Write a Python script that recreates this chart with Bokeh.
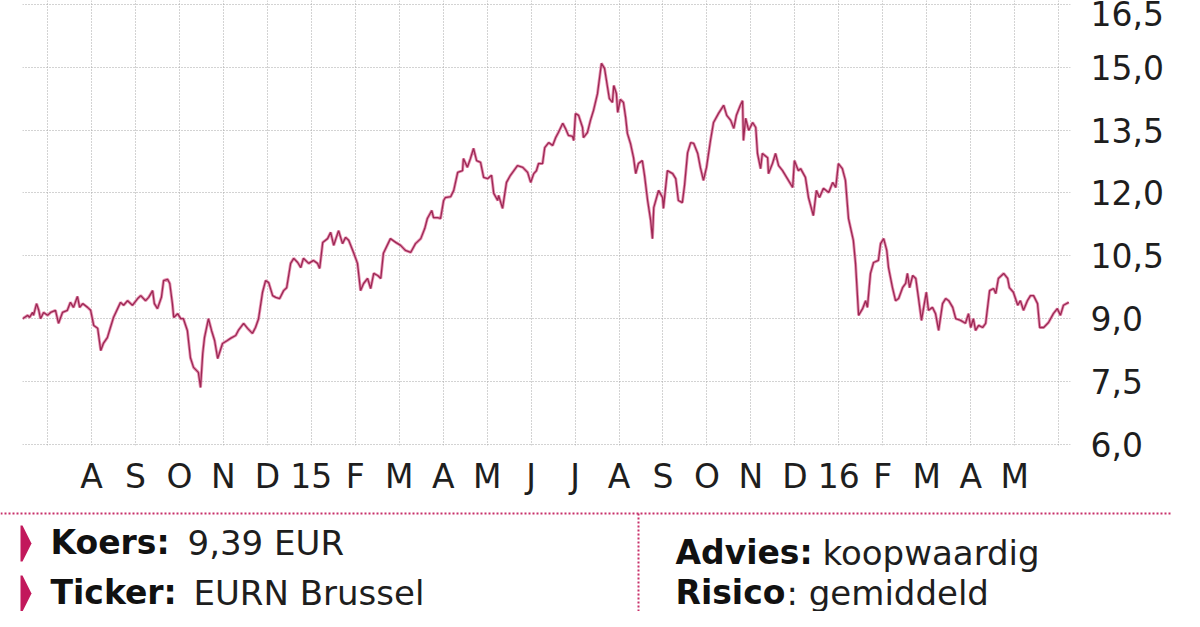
from bokeh.plotting import figure
from bokeh.models import Range1d, FixedTicker
from bokeh.layouts import column
from bokeh.core.properties import value
from bokeh.embed import file_html
from bokeh.resources import INLINE

# ---- data: months since 1 Jul 2014 (equal-width months), share price in EUR ----
months = [-0.57, -0.45, -0.41, -0.34, -0.32, -0.25, -0.20, -0.16, -0.09, 0.00,
          0.07, 0.18, 0.25, 0.34, 0.45, 0.52, 0.59, 0.68, 0.73, 0.80,
          0.91, 0.98, 1.05, 1.14, 1.21, 1.27, 1.36, 1.43, 1.50, 1.66,
          1.73, 1.82, 1.93, 2.05, 2.12, 2.23, 2.30, 2.39, 2.43, 2.50,
          2.59, 2.64, 2.73, 2.78, 2.84, 2.87, 2.96, 3.03, 3.09, 3.18,
          3.25, 3.32, 3.43, 3.48, 3.53, 3.57, 3.66, 3.73, 3.80, 3.87,
          3.98, 4.09, 4.16, 4.28, 4.34, 4.46, 4.55, 4.66, 4.73, 4.80,
          4.89, 4.96, 5.03, 5.12, 5.19, 5.28, 5.37, 5.44, 5.53, 5.60,
          5.69, 5.76, 5.82, 5.94, 6.05, 6.14, 6.19, 6.26, 6.37, 6.44,
          6.51, 6.62, 6.71, 6.78, 6.85, 6.96, 7.05, 7.12, 7.19, 7.28,
          7.35, 7.42, 7.51, 7.58, 7.64, 7.80, 7.92, 8.03, 8.14, 8.26,
          8.37, 8.49, 8.58, 8.64, 8.74, 8.78, 8.87, 8.94, 9.01, 9.05,
          9.17, 9.24, 9.33, 9.44, 9.46, 9.55, 9.62, 9.69, 9.76, 9.85,
          9.92, 10.01, 10.10, 10.15, 10.24, 10.26, 10.35, 10.44, 10.53, 10.69,
          10.81, 10.92, 10.99, 11.06, 11.12, 11.17, 11.26, 11.31, 11.40, 11.49,
          11.56, 11.62, 11.72, 11.78, 11.85, 11.94, 11.97, 12.01, 12.08, 12.17,
          12.19, 12.28, 12.35, 12.42, 12.51, 12.60, 12.67, 12.74, 12.78, 12.85,
          12.88, 12.94, 12.97, 13.03, 13.10, 13.15, 13.19, 13.26, 13.33, 13.38,
          13.44, 13.53, 13.58, 13.65, 13.72, 13.76, 13.79, 13.90, 13.99, 14.01,
          14.10, 14.22, 14.29, 14.35, 14.44, 14.49, 14.56, 14.63, 14.70, 14.79,
          14.85, 14.92, 14.99, 15.08, 15.15, 15.26, 15.38, 15.45, 15.54, 15.61,
          15.67, 15.76, 15.81, 15.83, 15.88, 15.95, 16.04, 16.11, 16.15, 16.22,
          16.26, 16.38, 16.40, 16.49, 16.56, 16.63, 16.72, 16.83, 16.95, 16.99,
          17.08, 17.13, 17.24, 17.31, 17.42, 17.49, 17.56, 17.65, 17.77, 17.86,
          17.93, 17.99, 18.08, 18.15, 18.22, 18.33, 18.38, 18.45, 18.54, 18.61,
          18.65, 18.72, 18.79, 18.90, 18.95, 19.02, 19.09, 19.13, 19.22, 19.29,
          19.36, 19.45, 19.52, 19.56, 19.61, 19.68, 19.75, 19.81, 19.88, 19.93,
          19.99, 20.04, 20.13, 20.20, 20.27, 20.36, 20.43, 20.50, 20.59, 20.66,
          20.77, 20.88, 20.95, 21.00, 21.06, 21.11, 21.18, 21.27, 21.34, 21.43,
          21.52, 21.57, 21.63, 21.75, 21.84, 21.88, 21.97, 22.07, 22.13, 22.20,
          22.29, 22.36, 22.43, 22.52, 22.57, 22.66, 22.77, 22.88, 22.97, 23.04,
          23.11, 23.23]

prices = [9.00, 9.08, 9.03, 9.15, 9.08, 9.36, 9.20, 9.00, 9.15, 9.08,
          9.15, 9.20, 8.89, 9.15, 9.20, 9.39, 9.27, 9.53, 9.27, 9.36,
          9.27, 9.20, 8.84, 8.77, 8.24, 8.41, 8.55, 8.79, 9.03, 9.39,
          9.32, 9.43, 9.32, 9.48, 9.55, 9.43, 9.51, 9.67, 9.36, 9.24,
          9.51, 9.91, 9.94, 9.84, 9.36, 9.03, 9.12, 9.00, 9.00, 8.72,
          8.07, 7.84, 7.72, 7.36, 8.17, 8.55, 9.00, 8.72, 8.48, 8.05,
          8.41, 8.48, 8.53, 8.60, 8.72, 8.89, 8.77, 8.65, 8.79, 9.00,
          9.63, 9.91, 9.86, 9.55, 9.51, 9.48, 9.67, 9.74, 10.32, 10.44,
          10.34, 10.22, 10.44, 10.32, 10.39, 10.32, 10.20, 10.82, 10.91, 11.06,
          10.75, 11.10, 10.79, 10.94, 10.87, 10.58, 10.32, 9.67, 9.84, 9.96,
          9.72, 10.08, 10.03, 9.96, 10.56, 10.91, 10.82, 10.75, 10.63, 10.58,
          10.79, 10.91, 11.15, 11.39, 11.58, 11.41, 11.41, 11.39, 11.82, 11.89,
          11.91, 12.06, 12.49, 12.53, 12.82, 12.61, 12.82, 13.06, 12.77, 12.73,
          12.37, 12.34, 12.42, 11.99, 11.82, 11.94, 11.63, 12.25, 12.42, 12.65,
          12.61, 12.49, 12.25, 12.46, 12.53, 12.70, 12.70, 13.08, 13.20, 13.13,
          13.32, 13.44, 13.66, 13.54, 13.37, 13.35, 13.25, 13.89, 13.85, 13.56,
          13.32, 13.44, 13.73, 13.97, 14.37, 15.09, 14.97, 14.51, 14.25, 14.16,
          14.56, 14.37, 13.92, 14.23, 14.16, 13.80, 13.42, 13.18, 12.84, 12.46,
          12.70, 12.77, 12.42, 11.82, 11.34, 10.91, 11.65, 12.06, 11.89, 11.63,
          12.53, 12.46, 12.34, 11.82, 11.77, 12.18, 12.96, 13.20, 13.18, 12.94,
          12.61, 12.30, 12.61, 13.25, 13.68, 13.89, 14.09, 13.85, 13.73, 13.54,
          13.85, 14.09, 14.20, 13.25, 13.78, 13.49, 13.68, 13.56, 12.94, 12.58,
          12.94, 12.84, 12.46, 12.70, 12.94, 12.65, 12.53, 12.34, 12.13, 12.77,
          12.53, 12.58, 12.37, 11.89, 11.46, 12.06, 11.89, 12.11, 12.01, 12.25,
          12.13, 12.70, 12.58, 12.30, 11.39, 10.87, 10.32, 9.08, 9.24, 9.43,
          9.27, 10.08, 10.34, 10.39, 10.79, 10.91, 10.63, 10.22, 9.74, 9.43,
          9.48, 9.74, 9.84, 10.08, 9.74, 10.03, 9.96, 9.51, 8.96, 9.27,
          9.63, 9.20, 9.27, 9.12, 8.72, 9.36, 9.48, 9.43, 9.27, 9.00,
          8.96, 8.89, 9.12, 8.79, 9.00, 8.72, 8.84, 8.79, 8.89, 9.67,
          9.72, 9.60, 9.96, 10.08, 9.96, 9.74, 9.63, 9.32, 9.43, 9.20,
          9.43, 9.55, 9.55, 9.36, 8.79, 8.79, 8.91, 9.12, 9.24, 9.08,
          9.32, 9.39]

month_grid = list(range(0, 24))
x_tick_pos = list(range(1, 23))
x_tick_labels = ["A", "S", "O", "N", "D", "15", "F", "M", "A", "M", "J",
                 "J", "A", "S", "O", "N", "D", "16", "F", "M", "A", "M"]
y_ticks = [6.0, 7.5, 9.0, 10.5, 12.0, 13.5, 15.0, 16.5]
y_tick_labels = ["6,0", "7,5", "9,0", "10,5", "12,0", "13,5", "15,0", "16,5"]

info_keys = ["Koers:", "Ticker:", "Advies:", "Risico"]
info_vals = ["9,39 EUR", "EURN Brussel", "koopwaardig", ": gemiddeld"]

AXIS_FONT = "DejaVu Sans"
TXT = "#1e1e1e"
PINK = "#c8306a"

# ---------------- chart ----------------
top = figure(width=1184, height=508,
             x_range=Range1d(-0.57, 23.27), y_range=Range1d(5.976, 16.589),
             y_axis_location="right", output_backend="svg", toolbar_location=None,
             min_border_left=22, min_border_right=114, min_border_top=0,
             min_border_bottom=63)
top.outline_line_color = None
top.background_fill_color = "white"
top.border_fill_color = "white"
top.frame_align = False

top.xgrid.ticker = FixedTicker(ticks=month_grid)
top.ygrid.ticker = FixedTicker(ticks=y_ticks)
for g in (top.xgrid, top.ygrid):
    g.grid_line_color = "#a6a6a6"
    g.grid_line_dash = "1 2"
    g.grid_line_width = 1

xa = top.xaxis[0]
xa.ticker = FixedTicker(ticks=x_tick_pos)
xa.major_label_overrides = {p: l for p, l in zip(x_tick_pos, x_tick_labels)}
ya = top.yaxis[0]
ya.ticker = FixedTicker(ticks=y_ticks)
ya.major_label_overrides = {t: l for t, l in zip(y_ticks, y_tick_labels)}
for ax in (xa, ya):
    ax.axis_line_color = None
    ax.major_tick_line_color = None
    ax.minor_tick_line_color = None
    ax.major_tick_out = 0
    ax.major_tick_in = 0
    ax.major_label_text_font = AXIS_FONT
    ax.major_label_text_font_size = "33px"
    ax.major_label_text_color = TXT
xa.major_label_standoff = 11
ya.major_label_standoff = 20

top.line(months, prices, line_color="#e27fa5", line_width=3.0, line_alpha=0.85)
top.line(months, prices, line_color="#9c2854", line_width=1.3)

# ---------------- info box ----------------
bot = figure(width=1184, height=103, x_range=Range1d(0, 1184), y_range=Range1d(611, 508),
             x_axis_location=None, y_axis_location=None,
             output_backend="svg", toolbar_location=None,
             min_border_left=0, min_border_right=0, min_border_top=0, min_border_bottom=0)
bot.outline_line_color = None
bot.grid.visible = False
bot.background_fill_color = "white"
bot.border_fill_color = "white"
bot.frame_align = False

bot.line([0, 1172], [513, 513], line_color=PINK, line_width=2, line_dash="2 2")
bot.line([638, 638], [513, 611], line_color=PINK, line_width=2, line_dash="2 2")

bot.patches(xs=[[20, 22, 31, 22, 20], [20, 22, 31, 22, 20]],
            ys=[[525, 525, 543, 561, 561], [575, 575, 593, 611, 611]],
            fill_color="#c2185b", line_color=None)

key_y = [542, 592, 552, 592]
bot.text(x=[50, 50, 675, 675], y=key_y, text=info_keys,
         text_font=value("DejaVu Sans"), text_font_style="bold",
         text_font_size="33px", text_color="#111111", text_baseline="middle")
bot.text(x=[187, 193, 822, 786], y=key_y, text=info_vals,
         text_font=value("DejaVu Sans"), text_font_size="34px",
         text_color=TXT, text_baseline="middle")

layout = column(top, bot, spacing=0)
open("out.html", "w").write(file_html(layout, INLINE))
